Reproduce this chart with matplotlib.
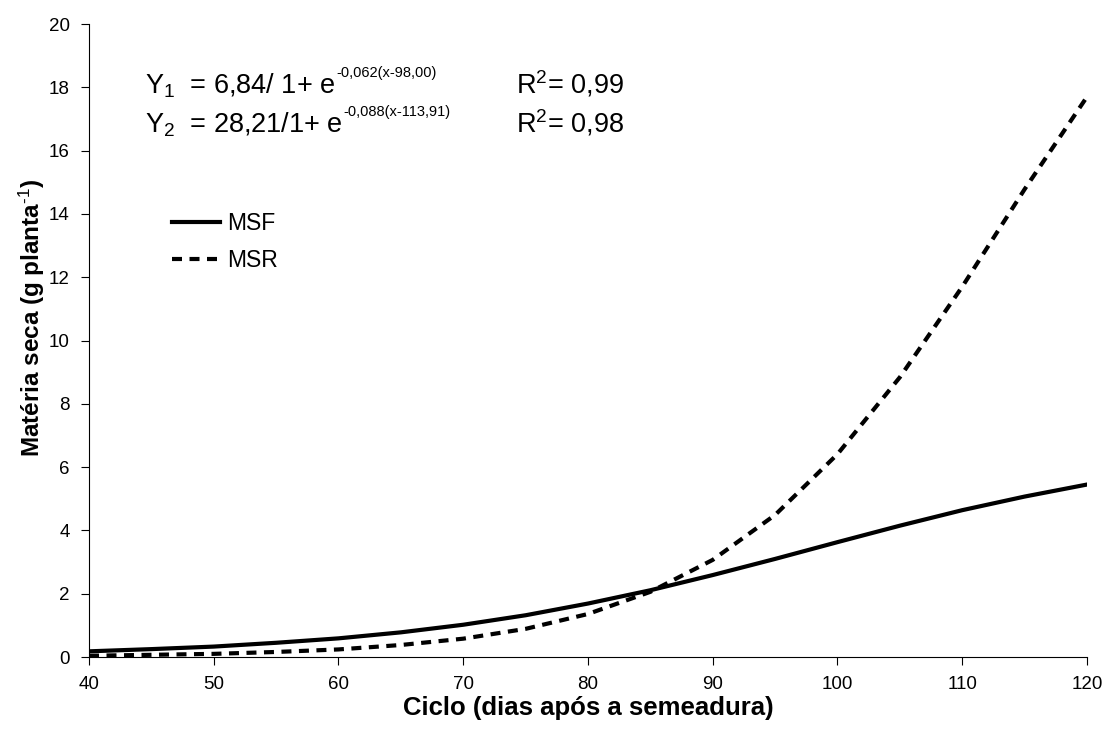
import numpy as np
import matplotlib.pyplot as plt

plt.rcParams['font.family'] = ['Liberation Sans', 'DejaVu Sans']
plt.rcParams['mathtext.fontset'] = 'custom'
plt.rcParams['mathtext.rm'] = 'Liberation Sans'
plt.rcParams['mathtext.it'] = 'Liberation Sans'
plt.rcParams['mathtext.bf'] = 'Liberation Sans:bold'

# dias apos a semeadura
dias = [40, 45, 50, 55, 60, 65, 70, 75, 80, 85, 90, 95, 100, 105, 110, 115, 120]
# materia seca das folhas (MSF)
msf = [0.18, 0.25, 0.33, 0.45, 0.59, 0.78, 1.02, 1.32, 1.69, 2.11, 2.59, 3.10,
       3.63, 4.15, 4.64, 5.07, 5.45]
# materia seca das raizes (MSR)
msr = [0.04, 0.07, 0.10, 0.16, 0.24, 0.38, 0.58, 0.89, 1.36, 2.06, 3.07, 4.49,
       6.41, 8.84, 11.70, 14.78, 17.70]

fig = plt.figure(figsize=(11.07, 7.36), dpi=100)
ax = fig.add_axes([0.0804, 0.1073, 0.9015, 0.860])

ax.plot(dias, msf, color='black', linewidth=3, label='MSF')
ax.plot(dias, msr, color='black', linewidth=3, linestyle=(0, (2.4, 1.8)), label='MSR')

ax.set_xlim(40, 120)
ax.set_ylim(0, 20)
ax.set_xticks(np.arange(40, 121, 10))
ax.set_yticks(np.arange(0, 21, 2))
ax.spines['top'].set_visible(False)
ax.spines['right'].set_visible(False)
ax.tick_params(direction='out', length=6, labelsize=13.5, pad=8)

ax.set_xlabel('Ciclo (dias após a semeadura)', fontsize=18.5, fontweight='bold', labelpad=2)
ax.set_ylabel('Matéria seca (g planta$^{\\mathbf{\\text{-1}}}$)', fontsize=17.5, fontweight='bold')
ax.yaxis.set_label_coords(-0.042, 0.536)

eq_size = 19.5
sup_size = 10.5
t1 = ax.text(44.5, 17.82, 'Y$_1$  = 6,84/ 1+ e', fontsize=eq_size, va='baseline')
t2 = ax.text(44.5, 16.56, 'Y$_2$  = 28,21/1+ e', fontsize=eq_size, va='baseline')
ax.annotate('-0,062(x-98,00)', xy=(1, 1), xycoords=t1, xytext=(0.5, 4),
            textcoords='offset points', fontsize=sup_size, va='top')
ax.annotate('-0,088(x-113,91)', xy=(1, 1), xycoords=t2, xytext=(0.5, 4),
            textcoords='offset points', fontsize=sup_size, va='top')
ax.text(74.2, 17.82, 'R$^2$= 0,99', fontsize=eq_size, va='baseline')
ax.text(74.2, 16.56, 'R$^2$= 0,98', fontsize=eq_size, va='baseline')

ax.legend(loc='upper left', bbox_to_anchor=(0.083, 0.703), frameon=False, fontsize=16.5,
          borderpad=0, borderaxespad=0, handlelength=2.1, handletextpad=0.3,
          labelspacing=0.6)

plt.savefig('out.png')
